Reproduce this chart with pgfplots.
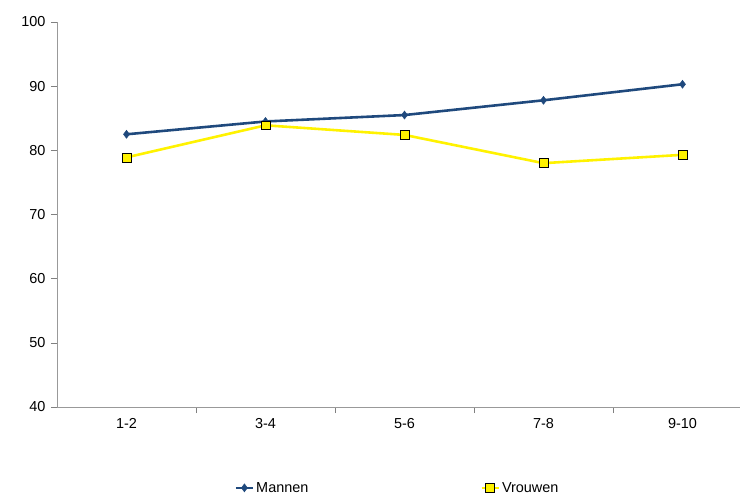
\documentclass[border=0pt]{standalone}
\usepackage{pgfplots}
\pgfplotsset{compat=1.18}
\usepackage{fontspec}
\setmainfont{Liberation Sans}
\definecolor{navy}{RGB}{31,73,125}
\begin{document}
\begin{tikzpicture}
\path[use as bounding box] (-57bp,-90bp) rectangle (683bp,407bp);
\begin{axis}[at={(0,0)},anchor=south west,scale only axis,width=695bp,height=385bp,
 xmin=-0.5,xmax=4.5,ymin=40,ymax=100,ytick={40,50,...,100},
 axis x line*=bottom, axis y line*=left,
 xtick pos=bottom, ytick pos=left,
 xtick={0.5,1.5,2.5,3.5},xticklabels={},
 extra x ticks={0,1,2,3,4},extra x tick labels={1-2,3-4,5-6,7-8,9-10},
 extra x tick style={major tick length=0pt,xticklabel style={yshift=-8bp}},
 tick align=outside, major tick length=6bp,
 axis line style={gray!80,line width=0.6pt},
 tick style={draw=gray,line width=0.6pt},
 tick label style={font=\fontsize{14.5}{16}\selectfont},
 /pgf/number format/assume math mode=true,
 yticklabel style={xshift=-2bp},
 legend style={at={(0.49,-0.21)},anchor=center,draw=none,legend columns=2,
   font=\fontsize{14.5}{16}\selectfont,/tikz/every even column/.append style={column sep=170bp}},
]
\addplot[navy,line width=2.6pt,mark=diamond*,mark size=4pt,mark options={fill=navy,line width=0.5pt}] coordinates {(0,82.5)(1,84.5)(2,85.5)(3,87.8)(4,90.3)};
\addlegendentry{Mannen}
\addplot[yellow,line width=2.6pt,mark=square*,mark size=4.5pt,mark options={fill=yellow,draw=black,line width=0.6pt}] coordinates {(0,78.9)(1,83.9)(2,82.4)(3,78.0)(4,79.3)};
\addlegendentry{Vrouwen}
\end{axis}
\end{tikzpicture}
\end{document}
